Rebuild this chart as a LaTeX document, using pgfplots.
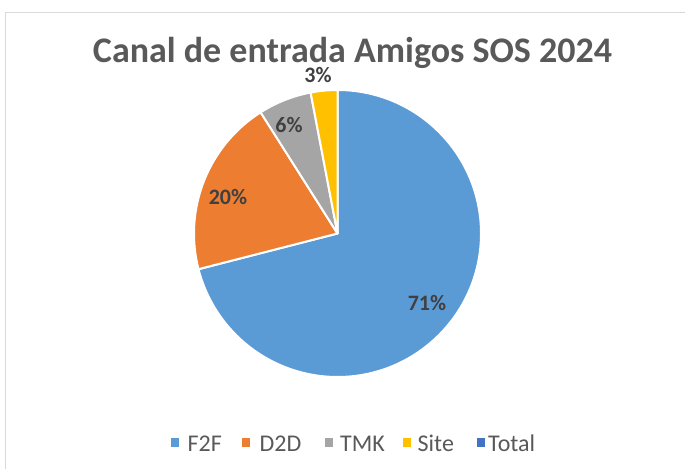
\documentclass[border=0pt]{standalone}
\usepackage{pgfplots}
\pgfplotsset{compat=1.18}
\usepackage{pgfplotstable}
\usepackage{fontspec}
\setmainfont{Carlito}
\definecolor{cF}{HTML}{5B9BD5}
\definecolor{cD}{HTML}{ED7D31}
\definecolor{cT}{HTML}{A5A5A5}
\definecolor{cS}{HTML}{FFC000}
\definecolor{cTot}{HTML}{4472C4}
\definecolor{txt}{HTML}{595959}
\definecolor{lab}{HTML}{404040}
\definecolor{frame}{HTML}{D9D9D9}

\pgfplotstableread{
label value color lx ly
F2F 71 cF 427 166
D2D 20 cD 228 272
TMK 6 cT 289 344
Site 3 cS 318 393.5
}\piedata

\pgfplotstableread{
label color sx tx
F2F cF 171 187.5
D2D cD 242 259.5
TMK cT 325 340
Site cS 403 417.5
Total cTot 477 488
}\legdata

\begin{document}
\begin{tikzpicture}
\useasboundingbox (0,0) rectangle (685pt,469pt);
\begin{axis}[
  at={(0,0)}, anchor=south west,
  width=685pt, height=469pt, scale only axis,
  xmin=0, xmax=685, ymin=0, ymax=469,
  hide axis, clip=false,
]
% frame
\draw[frame, line width=1pt] (axis cs:5,0) -- (axis cs:5,456) -- (axis cs:685,456);
% slices
\def\cum{0}
\pgfplotsforeachungrouped \i in {0,...,3}{%
  \pgfplotstablegetelem{\i}{value}\of\piedata \let\v\pgfplotsretval
  \pgfplotstablegetelem{\i}{color}\of\piedata \let\c\pgfplotsretval
  \pgfplotstablegetelem{\i}{lx}\of\piedata \let\lx\pgfplotsretval
  \pgfplotstablegetelem{\i}{ly}\of\piedata \let\ly\pgfplotsretval
  \pgfmathsetmacro\a{90-3.6*\cum}%
  \pgfmathsetmacro\b{90-3.6*(\cum+\v)}%
  \pgfmathsetmacro\xa{337.5+143.5*cos(\a)}%
  \pgfmathsetmacro\ya{235.5+143.5*sin(\a)}%
  \edef\temp{\noexpand\filldraw[fill=\c, draw=white, line width=2pt, line join=round]
    (axis cs:337.5,235.5) -- (axis cs:\xa,\ya) arc[start angle=\a, end angle=\b, radius=143.5] -- cycle;
    \noexpand\node[text=lab, font=\noexpand\bfseries\noexpand\fontsize{22}{24}\noexpand\selectfont, inner sep=0pt] at (axis cs:\lx,\ly) {\v\noexpand\%};}%
  \temp
  \pgfmathsetmacro\cum{\cum+\v}%
  \xdef\cum{\cum}%
}
\node[text=txt, font=\bfseries\fontsize{36}{40}\selectfont, inner sep=0pt, text depth=0pt] at (axis cs:352.5,419.5) {Canal de entrada Amigos SOS 2024};
% legend
\pgfplotsforeachungrouped \i in {0,...,4}{%
  \pgfplotstablegetelem{\i}{label}\of\legdata \let\l\pgfplotsretval
  \pgfplotstablegetelem{\i}{color}\of\legdata \let\c\pgfplotsretval
  \pgfplotstablegetelem{\i}{sx}\of\legdata \let\sx\pgfplotsretval
  \pgfplotstablegetelem{\i}{tx}\of\legdata \let\tx\pgfplotsretval
  \pgfmathsetmacro\sxe{\sx+8}%
  \edef\temp{\noexpand\fill[\c] (axis cs:\sx,22) rectangle (axis cs:\sxe,31);
    \noexpand\node[anchor=base west, inner sep=0pt, text=txt, font=\noexpand\fontsize{24}{26}\noexpand\selectfont] at (axis cs:\tx,17.5) {\l};}%
  \temp
}
\end{axis}
\end{tikzpicture}
\end{document}
